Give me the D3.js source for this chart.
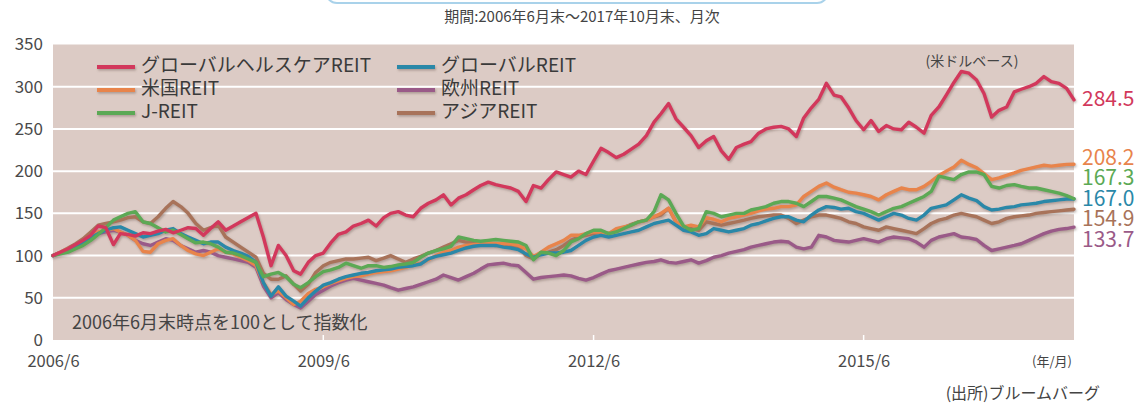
<!DOCTYPE html>
<html><head><meta charset="utf-8">
<script src="https://cdn.jsdelivr.net/npm/d3@7"></script>
<style>
html,body{margin:0;padding:0;background:#fff;}
svg{display:block;font-family:"Noto Sans CJK JP","Noto Sans",sans-serif;}
</style></head>
<body><svg id="c" width="1146" height="407"></svg>
<script>
// ---- data (monthly, 2006/6 .. 2017/10, index = 100 at 2006/6) ----
const startMonth = "2006-06";
const endMonth = "2017-10";
const seriesNames = ["グローバルヘルスケアREIT","米国REIT","J-REIT","グローバルREIT","欧州REIT","アジアREIT"];
const healthcare = [100,104,108,113,118,124,135,
 133,113,126,125,123,127,126,129,131,127,130,133,
 132,124,132,140,130,135,140,145,150,122,88,112,
 100,82,78,92,100,103,115,125,128,135,138,142,
 135,145,150,152,148,146,156,162,166,172,160,168,
 172,178,183,187,184,182,180,176,164,183,180,190,
 199,196,193,200,196,212,227,222,216,220,226,232,
 242,258,268,280,262,252,242,228,236,241,224,214,
 228,232,235,245,250,252,253,250,241,263,275,285,
 304,290,288,275,260,249,260,247,254,250,249,258,
 252,245,266,276,290,305,318,316,308,292,264,272,
 276,294,297,300,304,312,306,304,298,284.5];
const usReit = [100,104,108,112,117,122,128,130,132,128,124,118,105,
 104,114,118,120,112,106,102,100,104,108,104,102,
 98,94,88,68,54,58,50,42,46,55,60,63,
 67,70,73,75,76,78,80,81,82,84,86,89,
 91,95,100,104,106,110,112,113,114,115,114,114,
 114,112,108,99,104,110,114,118,124,124,126,128,
 128,126,132,134,136,140,142,146,150,156,140,134,
 136,134,145,143,140,144,146,148,150,153,155,156,
 158,158,160,170,176,182,186,181,178,175,174,172,
 170,166,172,176,180,178,178,182,188,195,200,205,
 213,208,204,197,190,192,195,198,201,203,205,207,
 206,207,208,208.2];
const jReit = [100,102,104,108,112,118,125,133,142,146,150,152,140,
 138,133,128,130,125,120,115,116,114,110,104,103,
 100,96,92,75,78,80,75,66,62,68,75,81,
 83,86,91,88,85,88,88,86,87,89,90,92,
 98,103,106,108,111,122,120,118,117,118,119,118,
 117,116,112,95,104,103,100,106,116,120,126,130,
 130,126,128,132,136,140,142,152,172,166,150,135,
 130,132,152,150,146,148,150,150,154,156,158,162,
 164,164,162,158,164,170,170,168,166,162,158,155,
 152,148,152,156,158,162,166,170,176,194,192,190,
 196,199,199,196,182,180,183,184,182,180,180,178,
 176,174,171,167.3];
const globalReit = [100,103,107,111,116,121,126,130,133,134,130,126,122,
 124,126,130,132,126,122,118,114,116,116,110,106,
 103,99,92,68,52,63,52,46,40,50,58,65,
 68,72,75,77,79,80,82,83,84,86,87,88,
 90,96,99,101,103,106,109,111,112,112,112,110,
 109,107,102,98,101,103,103,104,106,112,118,122,
 124,122,124,126,128,130,134,138,140,142,136,130,
 128,124,126,132,130,128,130,132,136,138,141,144,
 146,146,142,140,148,154,158,157,155,156,152,150,
 146,142,146,150,148,144,142,148,156,158,160,166,
 172,168,165,158,154,155,157,158,160,161,162,164,
 165,166,167,167.0];
const europeReit = [100,104,108,112,117,122,126,128,130,128,124,118,114,
 112,116,120,118,112,108,104,106,104,100,98,96,
 94,92,86,64,50,56,48,42,38,46,54,59,
 64,68,71,73,71,69,67,65,62,59,61,63,
 66,69,72,77,74,71,75,79,84,89,90,91,
 89,88,80,72,74,75,76,77,76,73,71,74,
 78,82,84,86,88,90,92,93,95,92,91,93,
 95,91,94,98,100,103,105,107,110,112,114,116,
 117,116,110,108,110,124,122,118,117,116,118,120,
 118,116,120,122,121,120,116,110,118,122,124,126,
 122,121,119,112,106,108,110,112,114,118,122,126,
 129,131,132,133.7];
const asiaReit = [100,104,109,114,120,128,136,138,140,142,145,146,140,
 138,146,156,164,158,150,138,130,133,136,122,116,
 110,104,98,79,72,72,76,66,58,66,80,88,
 92,94,96,96,97,98,94,97,100,96,92,96,
 99,103,106,110,114,118,116,115,114,113,112,112,
 112,110,100,96,102,104,107,112,118,122,124,126,
 128,126,130,133,137,140,142,146,148,156,140,134,
 132,130,140,138,136,138,140,142,144,146,147,148,
 148,144,138,142,146,148,148,146,144,140,138,134,
 132,130,134,132,130,128,126,132,138,142,144,148,
 150,148,146,142,138,140,144,146,147,148,150,151,
 152,153,154,154.9];
const yTicks = [0,50,100,150,200,250,300,350];
const xTickLabels = ["2006/6","2009/6","2012/6","2015/6"];
const colors = ["#d2395c","#e8844c","#5ba954","#2a88a8","#9a5a88","#a8735a"];

// ---- layout ----
const svg = d3.select("#c");
const M = {left:53, right:1074, top:44.5, bottom:340};
const parse = d3.timeParse("%Y-%m");
const months = d3.timeMonth.range(parse(startMonth), d3.timeMonth.offset(parse(endMonth),1));
const x = d3.scaleTime().domain([parse(startMonth), parse(endMonth)]).range([M.left, M.right]);
const y = d3.scaleLinear().domain([0,350]).range([M.bottom, M.top]);

const defs = svg.append("defs");
const f = defs.append("filter").attr("id","sh").attr("filterUnits","userSpaceOnUse")
  .attr("x",0).attr("y",0).attr("width",1146).attr("height",407);
f.append("feDropShadow").attr("dx",1).attr("dy",1.5).attr("stdDeviation",1.2).attr("flood-color","#6d5a55").attr("flood-opacity",0.45);

// top banner box edge
svg.append("rect").attr("x",326).attr("y",-30).attr("width",502).attr("height",33).attr("rx",11)
  .attr("fill","#fff").attr("stroke","#a9d2ea").attr("stroke-width",2);
svg.append("text").attr("x",582).attr("y",18).attr("text-anchor","middle").attr("dominant-baseline","middle")
  .attr("font-size",15).attr("fill","#444").text("期間:2006年6月末～2017年10月末、月次");

// plot background
svg.append("rect").attr("x",M.left).attr("y",M.top).attr("width",M.right-M.left).attr("height",M.bottom-M.top).attr("fill","#dccbc5");

// grid
svg.append("g").selectAll("line").data(yTicks.filter(d=>d>0&&d<350)).join("line")
  .attr("x1",M.left).attr("x2",M.right).attr("y1",d=>y(d)).attr("y2",d=>y(d))
  .attr("stroke","#fff").attr("stroke-width",2);

// y axis
const ya = svg.append("g").attr("transform",`translate(${M.left},0)`)
  .call(d3.axisLeft(y).tickValues(yTicks).tickSize(0).tickPadding(10));
ya.select(".domain").remove();
ya.selectAll("text").attr("font-size",17).attr("fill","#4a4a4a").attr("font-family","'Noto Sans CJK JP',sans-serif");

// x axis
const xTickDates = xTickLabels.map(s=>d3.timeParse("%Y/%m")(s));
const xa = svg.append("g").attr("transform",`translate(0,${M.bottom})`)
  .call(d3.axisBottom(x).tickValues(xTickDates).tickFormat((d,i)=>xTickLabels[i]).tickSize(0).tickPadding(15));
xa.select(".domain").remove();
xa.selectAll("text").attr("font-size",16.5).attr("fill","#4a4a4a").attr("font-family","'Noto Sans CJK JP',sans-serif");
svg.append("g").selectAll("line").data(xTickDates.slice(1)).join("line")
  .attr("x1",d=>x(d)).attr("x2",d=>x(d)).attr("y1",M.bottom).attr("y2",M.bottom-5)
  .attr("stroke","#fff").attr("stroke-width",1.5);

// lines
const allSeries = [healthcare,usReit,jReit,globalReit,europeReit,asiaReit];
const drawOrder = [4,5,1,3,2,0];
const line = d3.line().x((d,i)=>x(months[i])).y(d=>y(d)).curve(d3.curveLinear);
const lg = svg.append("g").attr("filter","url(#sh)");
drawOrder.forEach(k=>{
  lg.append("path").datum(allSeries[k]).attr("d",line).attr("fill","none")
    .attr("stroke",colors[k]).attr("stroke-width",3.4).attr("stroke-linejoin","round").attr("stroke-linecap","round");
});

// end labels: relax positions, then draw the stacked cluster as one text block
const GAP = 20.5;
const labs = allSeries.map((s,k)=>({k, v:s[s.length-1], y:y(s[s.length-1])})).sort((a,b)=>a.y-b.y);
for(let it=0; it<200; it++){
  for(let j=1;j<labs.length;j++){
    const gap = labs[j].y - labs[j-1].y;
    if(gap < GAP){ const d=(GAP-gap)/2; labs[j].y+=d; labs[j-1].y-=d; }
  }
}
const groups = [];
labs.forEach(l=>{
  const g = groups[groups.length-1];
  if(g && l.y - g[g.length-1].y < GAP + 0.5) g.push(l); else groups.push([l]);
});
const lblG = svg.append("g");
groups.forEach(g=>{
  const t = lblG.append("text").attr("x",M.right+8).attr("y",g[0].y).attr("dominant-baseline","middle")
    .attr("font-size",21).attr("font-family","'Noto Sans CJK JP',sans-serif");
  g.forEach((l,j)=>{
    t.append("tspan").attr("x",M.right+8).attr("y",l.y).attr("dominant-baseline","middle")
      .attr("fill",colors[l.k]).text(l.v.toFixed(1));
  });
});

// legend (left column: series 0-2, right column: series 3-5)
const legX = [97,397];
const legY = [67,90,113];
const legend = svg.append("g");
seriesNames.forEach((n,k)=>{
  const px = legX[Math.floor(k/3)], py = legY[k%3];
  legend.append("line").attr("x1",px).attr("x2",px+38).attr("y1",py).attr("y2",py)
    .attr("stroke",colors[k]).attr("stroke-width",4).attr("filter","url(#sh)");
  legend.append("text").attr("x",px+44).attr("y",py).attr("dominant-baseline","middle")
    .attr("font-size",19).attr("fill","#3a3a3a").text(n);
});

// annotations
svg.append("text").attr("x",972).attr("y",62).attr("text-anchor","middle").attr("dominant-baseline","middle")
  .attr("font-size",14).attr("fill","#444").text("(米ドルベース)");
svg.append("text").attr("x",72).attr("y",324).attr("dominant-baseline","middle")
  .attr("font-size",18).attr("fill","#444").text("2006年6月末時点を100として指数化");
svg.append("text").attr("x",1052).attr("y",362).attr("text-anchor","middle").attr("dominant-baseline","middle")
  .attr("font-size",13).attr("fill","#444").text("(年/月)");
svg.append("text").attr("x",1100).attr("y",395).attr("text-anchor","end").attr("dominant-baseline","middle")
  .attr("font-size",16).attr("fill","#444").text("(出所)ブルームバーグ");
</script></body></html>
